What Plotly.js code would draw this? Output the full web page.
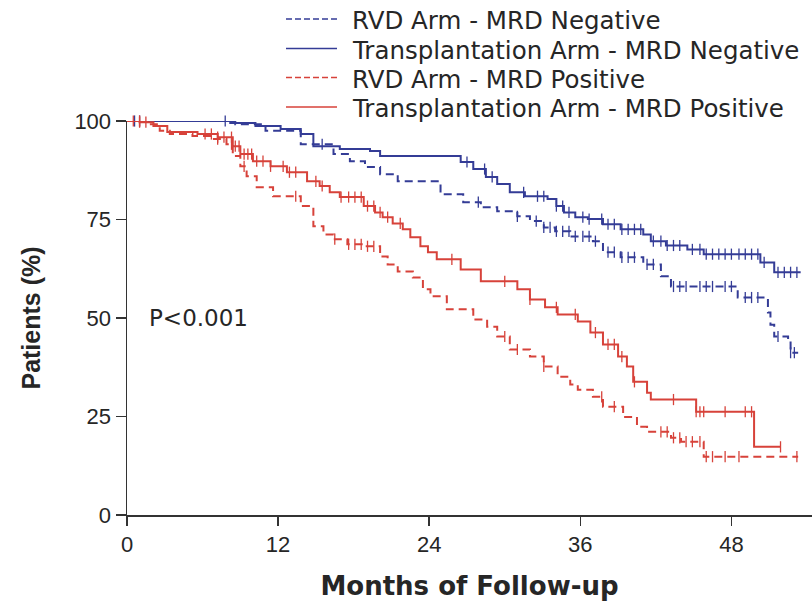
<!DOCTYPE html>
<html>
<head>
<meta charset="utf-8">
<script src="https://cdn.plot.ly/plotly-3.0.1.min.js"></script>
<style>html,body{margin:0;padding:0;background:#fff;}#chart{width:812px;height:601px;}</style>
</head>
<body>
<div id="chart"></div>
<script>
// ---- Data (months, % patients) ----
const seriesNames = [
  "RVD Arm - MRD Negative",
  "Transplantation Arm - MRD Negative",
  "RVD Arm - MRD Positive",
  "Transplantation Arm - MRD Positive"
];

// RVD Arm - MRD Negative (dashed blue)
const rvdNegT = [0, 8.6, 11.0, 13.8, 16.4, 17.7, 18.9, 20.1, 21.5, 24.9, 26.7, 28.1, 29.4, 31.0, 32.0, 33.1, 34.0, 35.2, 37.0, 37.8, 39.2, 41.0, 42.4, 43.2, 48.5, 50.9, 51.1, 51.4, 52.5, 52.7, 53.3];
const rvdNegS = [100, 99.2, 97.5, 94.1, 91.6, 89.8, 88.3, 86.5, 84.7, 81.4, 79.4, 78.1, 77.1, 75.8, 74.6, 73.0, 72.0, 70.7, 69.5, 66.7, 65.4, 63.6, 60.6, 58.0, 55.2, 51.4, 48.3, 45.3, 43.8, 41.2, 41.2];
const rvdNegC = [1.0, 15.5, 27.9, 31.0, 32.5, 33.1, 33.6, 34.1, 34.6, 35.1, 35.6, 36.2, 36.7, 37.2, 38.2, 38.7, 39.3, 39.8, 40.3, 41.3, 41.8, 43.4, 43.9, 44.4, 45.5, 46.0, 46.5, 47.5, 48.0, 49.1, 49.6, 50.1, 51.7, 52.7, 53.0];

// Transplantation Arm - MRD Negative (solid blue)
const trNegT = [0, 8.2, 10.2, 12.2, 13.8, 14.8, 16.9, 19.3, 20.1, 26.5, 27.5, 28.5, 29.4, 30.4, 31.6, 33.4, 34.1, 34.7, 35.6, 36.6, 37.8, 39.2, 41.0, 41.6, 42.8, 44.5, 45.8, 50.3, 51.4, 53.5];
const trNegS = [100, 99.5, 98.7, 98.0, 96.7, 93.6, 92.9, 92.4, 91.1, 89.6, 87.8, 85.8, 84.0, 81.9, 80.9, 80.2, 78.4, 76.8, 75.6, 75.1, 73.8, 72.5, 71.2, 69.5, 68.4, 67.4, 66.2, 64.1, 61.6, 61.6];
const trNegC = [0.6, 7.8, 27.0, 28.4, 29.0, 31.5, 32.6, 33.1, 34.1, 34.6, 35.1, 36.2, 36.7, 37.7, 38.2, 38.7, 39.3, 39.8, 40.3, 40.8, 41.8, 42.4, 42.9, 43.4, 43.9, 44.9, 45.5, 46.0, 46.5, 47.0, 47.5, 48.0, 48.6, 49.1, 49.6, 50.1, 50.6, 51.7, 52.2, 52.7, 53.2];

// RVD Arm - MRD Positive (dashed red)
const rvdPosT = [0, 1.8, 2.6, 3.4, 5.2, 6.6, 7.9, 8.4, 9.0, 9.5, 10.3, 11.6, 13.8, 14.8, 15.6, 16.4, 17.5, 18.8, 20.1, 20.7, 21.5, 22.7, 23.5, 24.1, 25.4, 27.5, 28.6, 29.4, 30.4, 32.0, 33.1, 34.2, 35.2, 35.8, 37.0, 37.8, 39.4, 40.5, 41.3, 43.2, 44.0, 45.8, 53.3];
const rvdPosS = [100, 99.2, 97.5, 96.7, 96.2, 95.4, 94.1, 91.1, 88.5, 86.0, 83.2, 80.9, 78.4, 73.3, 71.2, 70.0, 68.7, 68.2, 65.6, 63.6, 61.8, 60.3, 57.3, 55.5, 52.2, 49.6, 47.8, 45.3, 42.0, 40.2, 37.7, 35.1, 33.1, 31.8, 30.0, 27.5, 24.9, 22.4, 21.1, 19.6, 18.6, 14.8, 14.8];
const rvdPosC = [1.0, 7.2, 8.3, 9.3, 13.4, 16.5, 17.6, 18.1, 18.6, 19.1, 19.6, 30.0, 31.0, 33.1, 37.7, 38.7, 42.4, 42.9, 43.4, 43.9, 44.4, 44.9, 45.5, 46.0, 46.5, 47.5, 48.6, 53.2];

// Transplantation Arm - MRD Positive (solid red)
const trPosT = [0, 1.0, 2.1, 3.2, 5.6, 7.2, 8.4, 9.0, 10.0, 11.4, 12.7, 14.3, 15.3, 16.1, 16.9, 18.8, 19.7, 20.3, 21.1, 21.9, 22.5, 23.3, 23.9, 24.6, 26.5, 28.1, 31.0, 32.0, 33.2, 34.2, 35.8, 36.8, 37.8, 39.0, 39.7, 40.2, 41.3, 41.6, 45.2, 49.8, 51.9];
const trPosS = [100, 99.7, 98.7, 97.2, 96.7, 95.9, 93.6, 91.6, 89.8, 88.5, 87.0, 84.7, 83.5, 81.9, 80.7, 78.4, 76.8, 75.6, 74.0, 72.5, 70.5, 68.2, 66.7, 64.9, 62.3, 59.3, 57.3, 54.7, 52.7, 50.9, 49.1, 46.3, 43.3, 40.2, 37.7, 33.8, 31.0, 29.3, 26.2, 17.3, 17.3];
const trPosC = [0.5, 1.0, 1.5, 6.2, 6.7, 7.2, 7.7, 8.3, 8.6, 8.9, 9.3, 9.6, 9.9, 10.3, 10.8, 11.4, 12.4, 12.9, 13.4, 15.0, 15.5, 17.0, 17.6, 18.1, 18.6, 19.1, 19.6, 20.1, 20.7, 21.7, 25.8, 30.0, 32.0, 34.1, 35.6, 37.2, 38.2, 38.7, 39.3, 40.3, 43.4, 45.2, 45.5, 45.8, 47.5, 49.1, 49.6, 51.9];

const xTicks = [0, 12, 24, 36, 48];
const yTicks = [0, 25, 50, 75, 100];
const pValueText = "P<0.001";

// ---- Styles ----
const BLUE = "#343c96";
const RED = "#d7423a";
const TXT = "#262626";

function stepValue(T, S, t) {
  let v = S[0];
  for (let i = 0; i < T.length; i++) { if (T[i] <= t) v = S[i]; else break; }
  return v;
}

const defs = [
  {T: rvdNegT, S: rvdNegS, C: rvdNegC, color: BLUE, dash: "8px,5px"},
  {T: trNegT,  S: trNegS,  C: trNegC,  color: BLUE, dash: "solid"},
  {T: rvdPosT, S: rvdPosS, C: rvdPosC, color: RED,  dash: "8px,5px"},
  {T: trPosT,  S: trPosS,  C: trPosC,  color: RED,  dash: "solid"}
];

const traces = [];
defs.forEach((d, i) => {
  traces.push({
    x: d.T, y: d.S, type: "scatter", mode: "lines", name: seriesNames[i],
    line: {shape: "hv", color: d.color, width: 2, dash: d.dash},
    cliponaxis: false, showlegend: false, hoverinfo: "skip"
  });
  traces.push({
    x: d.C, y: d.C.map(t => stepValue(d.T, d.S, t)), type: "scatter", mode: "markers",
    name: seriesNames[i] + " (censored)",
    marker: {symbol: "line-ns-open", size: 8, color: d.color, line: {color: d.color, width: 1.3}},
    cliponaxis: false, showlegend: false, hoverinfo: "skip"
  });
});

// ---- Manual legend ----
const W = 812, H = 601, L = 127, R = 0, T = 121, B = 86;
const pw = W - L - R, ph = H - T - B;
const px = p => (p - L) / pw;
const py = p => (H - B - p) / ph;
const legRows = [21, 50.5, 79.5, 109];
const shapes = [], annotations = [];
defs.forEach((d, i) => {
  shapes.push({type: "line", xref: "paper", yref: "paper",
    x0: px(286), x1: px(337), y0: py(legRows[i] - 2), y1: py(legRows[i] - 2),
    line: {color: d.color, width: 1.6, dash: d.dash === "solid" ? "solid" : "6px,3px"}});
  annotations.push({xref: "paper", yref: "paper", x: px(350), y: py(legRows[i]),
    xanchor: "left", yanchor: "middle", showarrow: false, text: seriesNames[i],
    font: {family: "DejaVu Sans", size: 24.5, color: TXT}});
});
annotations.push({xref: "x", yref: "y", x: 1.6, y: 50, xanchor: "left", yanchor: "middle",
  showarrow: false, text: pValueText, font: {family: "DejaVu Sans", size: 23, color: TXT}});

const layout = {
  width: W, height: H,
  margin: {l: L, r: R, t: T, b: B},
  paper_bgcolor: "#fff", plot_bgcolor: "#fff",
  showlegend: false,
  xaxis: {
    range: [0, 54.4], tickvals: xTicks, ticktext: xTicks.map(String),
    showline: true, linecolor: "#333", linewidth: 1.5, mirror: false,
    ticks: "outside", ticklen: 9, tickwidth: 1.5, tickcolor: "#333",
    showgrid: false, zeroline: false,
    tickfont: {family: "Liberation Sans", size: 22, color: TXT},
    title: {text: "Months of Follow-up", standoff: 26,
      font: {family: "DejaVu Sans", size: 26, color: TXT, weight: "bold"}}
  },
  yaxis: {
    range: [0, 100], tickvals: yTicks, ticktext: yTicks.map(String),
    showline: true, linecolor: "#333", linewidth: 1.5,
    ticks: "outside", ticklen: 10, tickwidth: 1.5, tickcolor: "#333",
    showgrid: false, zeroline: false,
    tickfont: {family: "Liberation Sans", size: 22, color: TXT},
    title: {text: "Patients (%)", standoff: 26,
      font: {family: "Liberation Sans", size: 25, color: TXT, weight: "bold"}}
  },
  shapes: shapes,
  annotations: annotations
};

Plotly.newPlot("chart", traces, layout, {staticPlot: true, displayModeBar: false});
</script>
</body>
</html>
